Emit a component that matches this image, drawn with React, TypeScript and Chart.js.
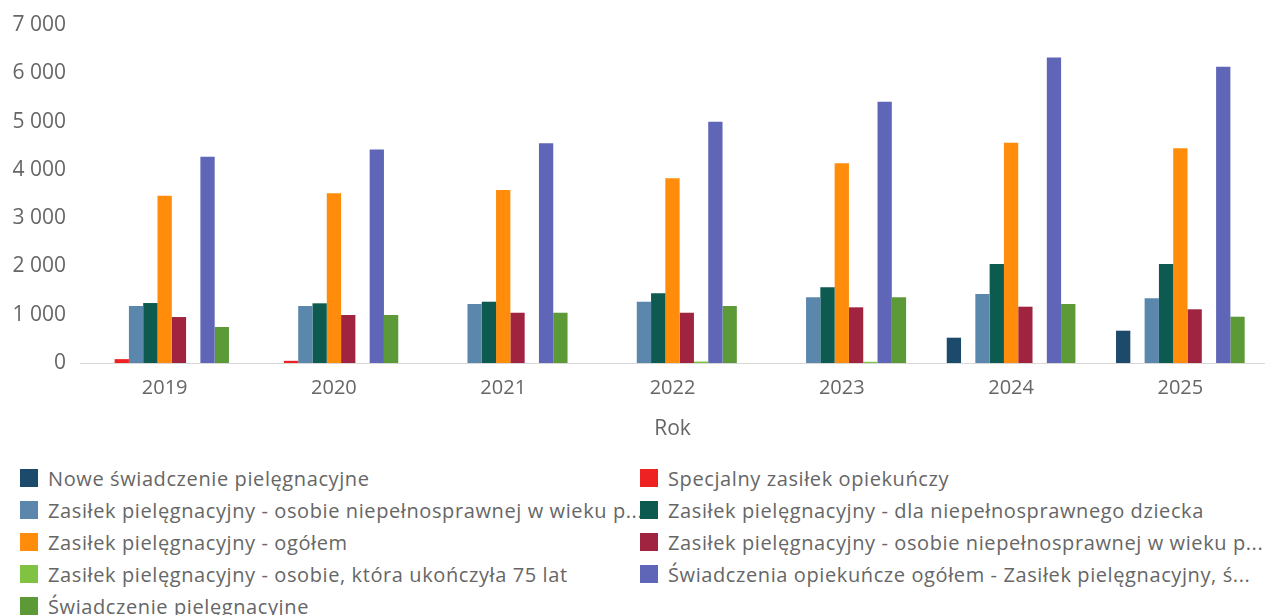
import React, { useEffect, useRef } from "react";
import { Chart, registerables } from "chart.js";

Chart.register(...registerables);

const categories = ["2019", "2020", "2021", "2022", "2023", "2024", "2025"];

const seriesLabels = [
  "Nowe świadczenie pielęgnacyjne",
  "Specjalny zasiłek opiekuńczy",
  "Zasiłek pielęgnacyjny -  osobie niepełnosprawnej w wieku p...",
  "Zasiłek pielęgnacyjny - dla niepełnosprawnego dziecka",
  "Zasiłek pielęgnacyjny - ogółem",
  "Zasiłek pielęgnacyjny - osobie niepełnosprawnej w wieku p...",
  "Zasiłek pielęgnacyjny - osobie, która ukończyła 75 lat",
  "Świadczenia opiekuńcze ogółem - Zasiłek pielęgnacyjny, ś...",
  "Świadczenie pielęgnacyjne",
];

const seriesColors = [
  "#1b4a6b",
  "#ee2222",
  "#5b87ad",
  "#0d5a50",
  "#ff8c0a",
  "#a0233f",
  "#80c342",
  "#5f66b8",
  "#5c9a38",
];

const noweSwiadczenie = [null, null, null, null, null, 524, 669];
const specjalnyZasilek = [80, 45, null, null, null, null, null];
const zpWiekuP1 = [1180, 1180, 1222, 1269, 1360, 1429, 1340];
const zpDziecka = [1242, 1236, 1269, 1443, 1567, 2050, 2050];
const zpOgolem = [3464, 3513, 3582, 3824, 4135, 4561, 4445];
const zpWiekuP2 = [952, 994, 1041, 1041, 1153, 1166, 1112];
const zp75 = [null, null, null, 30, 25, null, null];
const swiadczeniaOgolem = [4271, 4424, 4549, 4996, 5410, 6329, 6135];
const swiadczeniePiel = [745, 994, 1041, 1180, 1360, 1222, 959];

const seriesValues = [
  noweSwiadczenie,
  specjalnyZasilek,
  zpWiekuP1,
  zpDziecka,
  zpOgolem,
  zpWiekuP2,
  zp75,
  swiadczeniaOgolem,
  swiadczeniePiel,
];

const yMin = 0;
const yMax = 7000;
const yStep = 1000;
const xTitle = "Rok";

const FONT = "'Open Sans', 'Noto Sans', sans-serif";
const TEXT = "#666666";

export default function App() {
  const canvasRef = useRef<HTMLCanvasElement | null>(null);

  useEffect(() => {
    if (!canvasRef.current) return;
    const chart = new Chart(canvasRef.current, {
      type: "bar",
      data: {
        labels: categories,
        datasets: seriesValues.map((vals, i) => ({
          label: seriesLabels[i],
          data: vals,
          backgroundColor: seriesColors[i],
          borderWidth: 0,
        })),
      },
      options: {
        animation: false,
        responsive: false,
        maintainAspectRatio: false,
        datasets: { bar: { categoryPercentage: 0.76, barPercentage: 1 } },
        layout: { padding: { top: 25, right: 0, left: 0, bottom: 0 } },
        plugins: {
          legend: { display: false },
          tooltip: { enabled: false },
        },
        scales: {
          x: {
            grid: { display: false },
            border: { display: true, color: "#d8d8d8", width: 1 },
            ticks: {
              color: TEXT,
              font: { family: FONT, size: 20 },
              padding: 5,
            },
            title: {
              display: true,
              text: xTitle,
              color: TEXT,
              font: { family: FONT, size: 21 },
              padding: { top: 0, bottom: 3 },
            },
            afterFit: (scale: any) => {
              scale.height = 82;
            },
          },
          y: {
            min: yMin,
            max: yMax,
            grid: { display: false },
            border: { display: false },
            ticks: {
              stepSize: yStep,
              color: TEXT,
              font: { family: FONT, size: 21 },
              padding: 6,
              callback: (v: any) =>
                String(v).replace(/\B(?=(\d{3})+(?!\d))/g, " "),
            },
            afterFit: (scale: any) => {
              scale.width = 80;
            },
          },
        },
      },
    });
    return () => chart.destroy();
  }, []);

  const rows: number[][] = [];
  for (let i = 0; i < seriesLabels.length; i += 2) {
    rows.push(i + 1 < seriesLabels.length ? [i, i + 1] : [i]);
  }

  return (
    <div
      style={{
        position: "absolute",
        left: 0,
        top: 0,
        width: 1265,
        height: 615,
        background: "#fff",
        overflow: "hidden",
        fontFamily: FONT,
      }}
    >
      <canvas
        ref={canvasRef}
        width={1265}
        height={445}
        style={{ position: "absolute", left: 0, top: 0 }}
      />
      {rows.map((row, r) =>
        row.map((idx, c) => (
          <div
            key={idx}
            style={{
              position: "absolute",
              left: c === 0 ? 20 : 640,
              top: 465 + r * 32,
              width: c === 0 ? 620 : 625,
              height: 26,
              display: "flex",
              alignItems: "center",
              whiteSpace: "nowrap",
              overflow: "hidden",
            }}
          >
            <span
              style={{
                display: "inline-block",
                width: 18,
                height: 18,
                background: seriesColors[idx],
                marginRight: 10,
                flex: "0 0 auto",
              }}
            />
            <span style={{ color: TEXT, fontSize: 20, letterSpacing: 0.6 }}>
              {seriesLabels[idx]}
            </span>
          </div>
        ))
      )}
    </div>
  );
}
